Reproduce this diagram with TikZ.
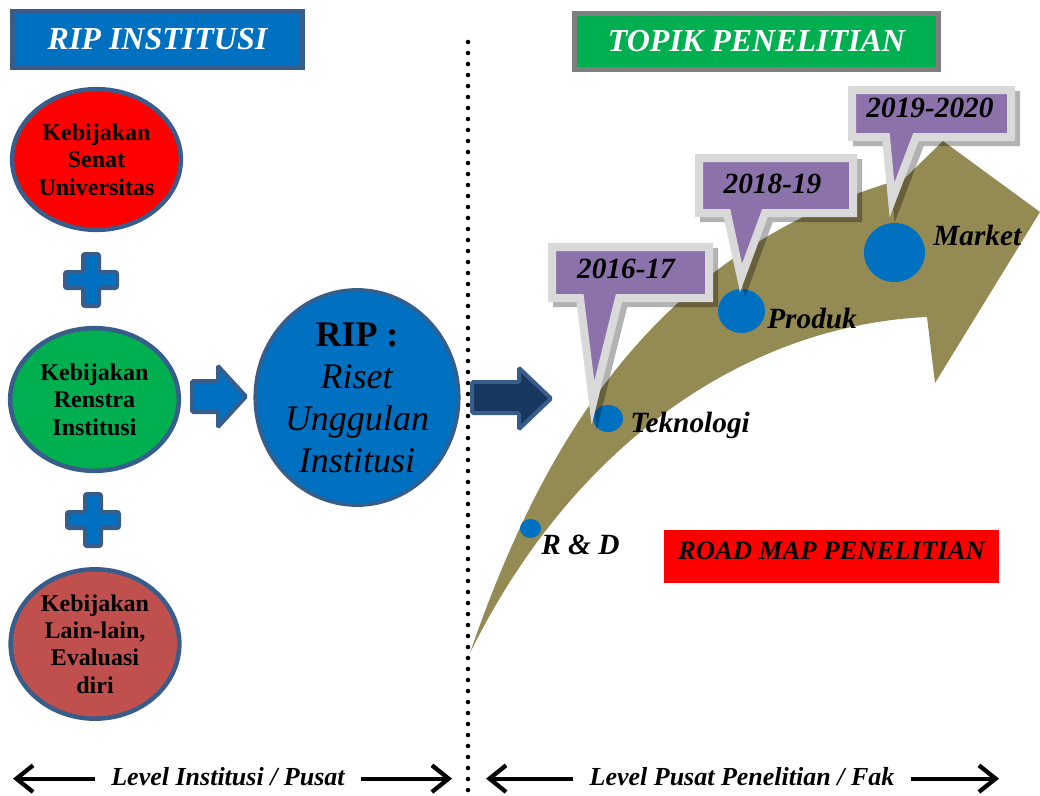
\documentclass[tikz,border=0pt]{standalone}
\usepackage{fontspec}
\setmainfont{Liberation Serif}
\usepackage{tikz}
\usetikzlibrary{arrows.meta, positioning, shapes.geometric}
\definecolor{ripblue}{HTML}{0070C0}
\definecolor{edgeblue}{HTML}{385D8A}
\definecolor{navyfill}{HTML}{17375E}
\definecolor{senatred}{HTML}{FF0000}
\definecolor{renstragreen}{HTML}{00B050}
\definecolor{lainred}{HTML}{C0504D}
\definecolor{roadolive}{HTML}{948A54}
\definecolor{callpurple}{HTML}{8C72AB}
\definecolor{callgray}{HTML}{D9D9D9}
\definecolor{topikgray}{HTML}{7F7F7F}
\tikzset{
  polnode/.style={ellipse,draw=edgeblue,line width=3.4pt,inner sep=0pt,align=center,minimum width=126.5pt,font=\fontsize{18pt}{20.5pt}\selectfont\bfseries},
  ripnode/.style={ellipse,draw=edgeblue,fill=ripblue,line width=2.6pt,inner sep=0pt,align=center,minimum width=149pt,minimum height=161.5pt,font=\fontsize{27pt}{31.5pt}\selectfont},
  titlebox/.style={line width=3.75pt,minimum width=217.5pt,minimum height=42pt,text=white,font=\fontsize{24pt}{28pt}\selectfont\bfseries\itshape},
  plusbox/.style={draw=edgeblue,fill=ripblue,line width=3pt,rounded corners=1.5pt},
  blockarr/.style={draw=edgeblue,line width=3pt,rounded corners=1pt},
  stagedot/.style={ellipse,fill=ripblue,inner sep=0pt},
  stagelbl/.style={anchor=base west,inner sep=0pt,font=\fontsize{22pt}{26pt}\selectfont\bfseries\itshape},
  callbox/.style={draw=callgray,fill=callpurple,line width=6pt},
  callshadow/.style={draw=black,opacity=0.3,line width=6pt},
  calltext/.style={anchor=base,inner sep=0pt,font=\fontsize{22pt}{26pt}\selectfont\bfseries\itshape},
  lvltext/.style={anchor=base,inner sep=0pt,text depth=4pt,font=\fontsize{19.5pt}{23pt}\selectfont\bfseries\itshape},
  lvlarrow/.style={-{Straight Barb[length=12.5pt,width=20pt]},line width=3.2pt,shorten <=12pt},
  dotline/.style={line width=3.4pt,line cap=round,dash pattern=on 0pt off 8.25pt},
}

\begin{document}
\begin{tikzpicture}[x=0.75pt,y=-0.75pt]
  \useasboundingbox (0,0) rectangle (1040,796);
  % headers
  \node[titlebox,draw=edgeblue,fill=ripblue] (tRip) at (157.5,39.5) {RIP INSTITUSI};
  \node[titlebox,draw=topikgray,fill=renstragreen,minimum width=273pt] (tTopik) at (756.5,41.5) {TOPIK PENELITIAN};
  % left column
  \node[polnode,fill=senatred,minimum height=105.5pt] (kSenat) at (96.5,159.5) {Kebijakan\\Senat\\Universitas};
  \node[polnode,fill=renstragreen,minimum height=107pt] (kRenstra) at (94.5,399.5) {Kebijakan\\Renstra\\Institusi};
  \node[polnode,fill=lainred,minimum height=112pt] (kLain) at (95,644) {Kebijakan\\Lain-lain,\\Evaluasi\\diri};
  \draw[plusbox,shift={(91,280)}] (-8,-26) -- (8,-26) -- (8,-8) -- (26,-8) -- (26,8) -- (8,8) -- (8,26) -- (-8,26) -- (-8,8) -- (-26,8) -- (-26,-8) -- (-8,-8) -- cycle;
  \draw[plusbox,shift={(93,520)}] (-8,-26) -- (8,-26) -- (8,-8) -- (26,-8) -- (26,8) -- (8,8) -- (8,26) -- (-8,26) -- (-8,8) -- (-26,8) -- (-26,-8) -- (-8,-8) -- cycle;
  \draw[blockarr,fill=ripblue] (192,381) -- (218,381) -- (218,366) -- (246,396.5) -- (218,427) -- (218,412) -- (192,412) -- cycle;
  \node[ripnode] (rip) at (357,397.5) {\textbf{RIP :}\\\textit{Riset}\\\textit{Unggulan}\\\textit{Institusi}};
  % divider
  \coordinate (divTop) at (468,42);
  \coordinate (divBot) at (468,796);
  \draw[dotline] (divTop) -- (divBot);
  \draw[blockarr,fill=navyfill] (472,382) -- (519,382) -- (519,368) -- (551,398.5) -- (519,429) -- (519,413) -- (472,413) -- cycle;
  % road map
  \fill[roadolive] (470,653) .. controls (550,420) and (670,245) .. (905,178) -- (943,141) -- (1040,212) -- (935,383) -- (927,317) .. controls (750,325) and (575,440) .. (470,653) -- cycle;
  \node[stagedot,minimum width=15.75pt,minimum height=14.25pt] (dRD) at (530.5,528.5) {};
  \node[stagedot,minimum width=22.5pt,minimum height=20.25pt] (dTek) at (608,418.5) {};
  \node[stagedot,minimum width=35.25pt,minimum height=33pt] (dProd) at (741.5,311) {};
  \node[stagedot,minimum width=45.75pt,minimum height=44.25pt] (dMarket) at (894.5,252.5) {};
  \node[stagelbl] (lRD) at (541,554) {R \& D};
  \node[stagelbl] (lTek) at (630,432) {Teknologi};
  \node[stagelbl] (lProd) at (767,328) {Produk};
  \node[stagelbl] (lMarket) at (933,245) {Market};
  % callouts
  \draw[callshadow,shift={(5,5)}] (552,247) -- (709,247) -- (709,298) -- (619,298) -- (593,403) -- (580,298) -- (552,298) -- cycle;
  \draw[callbox] (552,247) -- (709,247) -- (709,298) -- (619,298) -- (593,403) -- (580,298) -- (552,298) -- cycle;
  \draw[callshadow,shift={(5,5)}] (699,158) -- (853,158) -- (853,213) -- (765,213) -- (741,278) -- (727,213) -- (699,213) -- cycle;
  \draw[callbox] (699,158) -- (853,158) -- (853,213) -- (765,213) -- (741,278) -- (727,213) -- (699,213) -- cycle;
  \draw[callshadow,shift={(5,5)}] (852,90) -- (1011,90) -- (1011,137) -- (916,137) -- (892,200) -- (886,137) -- (852,137) -- cycle;
  \draw[callbox] (852,90) -- (1011,90) -- (1011,137) -- (916,137) -- (892,200) -- (886,137) -- (852,137) -- cycle;
  \node[calltext] (y1617) at (626,278) {2016-17};
  \node[calltext] (y1819) at (772.5,193) {2018-19};
  \node[calltext] (y1920) at (930,117) {2019-2020};
  \node[fill=senatred,minimum width=251.25pt,minimum height=39.75pt,text depth=8pt,font=\fontsize{20pt}{24pt}\selectfont\bfseries\itshape] (roadmap) at (831.5,556.5) {ROAD MAP PENELITIAN};
  % levels
  \node[lvltext] (lvInst) at (228,785) {Level Institusi / Pusat};
  \node[lvltext] (lvPusat) at (742,785) {Level Pusat Penelitian / Fak};
  \coordinate (edgeL) at (13,779);
  \coordinate (edgeM1) at (452,779);
  \coordinate (edgeM2) at (486,779);
  \coordinate (edgeR) at (999,779);
  \draw[lvlarrow] (lvInst.west) -- (lvInst.west -| edgeL);
  \draw[lvlarrow] (lvInst.east) -- (lvInst.east -| edgeM1);
  \draw[lvlarrow] (lvPusat.west) -- (lvPusat.west -| edgeM2);
  \draw[lvlarrow] (lvPusat.east) -- (lvPusat.east -| edgeR);
\end{tikzpicture}
\end{document}
